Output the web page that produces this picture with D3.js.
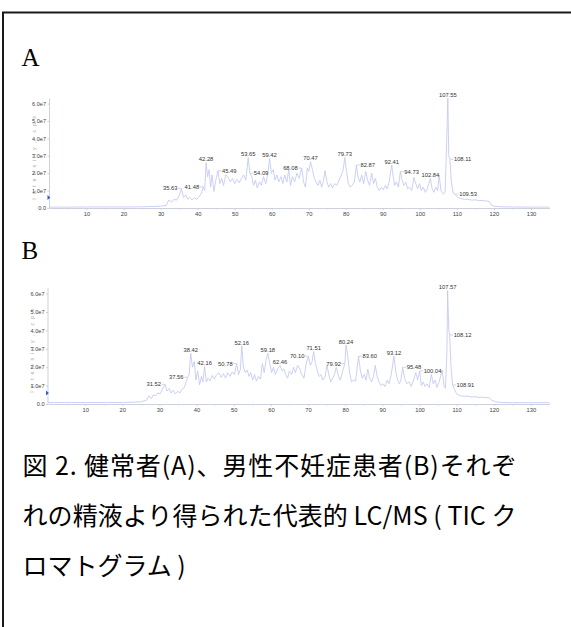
<!DOCTYPE html>
<html><head><meta charset="utf-8">
<script src="https://cdn.jsdelivr.net/npm/d3@7"></script>
<style>body{margin:0;background:#fff} svg{display:block}</style>
</head><body>
<svg id="c" width="571" height="627"></svg>
<script>
// ---------- DATA (intensity in units of 1e7) ----------
const xTicks = [10,20,30,40,50,60,70,80,90,100,110,120,130];
const yTicks = [0,1e7,2e7,3e7,4e7,5e7,6e7];

const traceA = [[0,0.05],[5,0.05],[10,0.06],[15,0.06],[20,0.06],[25,0.07],[30,0.1],[31.5,0.15],[32.2,0.45],[33,0.35],[33.6,0.5],[34.3,0.45],[35,0.7],[35.63,1.13],[36.2,0.6],[36.8,0.75],[37.3,0.5],[37.9,0.62],[38.5,0.45],[39.1,0.58],[39.8,0.5],[40.5,0.7],[41.0,0.85],[41.48,1.22],[41.9,1.0],[42.28,2.6],[42.7,1.8],[43.1,2.2],[43.5,1.2],[43.9,1.9],[44.4,0.95],[44.9,1.6],[45.49,2.14],[46.0,1.4],[46.5,1.7],[47.0,1.3],[47.6,1.9],[48.2,1.8],[48.8,1.5],[49.4,1.7],[50.0,1.4],[50.6,1.65],[51.2,1.45],[51.8,1.7],[52.4,1.9],[53.0,1.6],[53.65,2.9],[54.09,2.0],[54.6,1.8],[55.1,1.3],[55.6,1.6],[56.1,1.15],[56.7,1.5],[57.2,1.3],[57.8,1.8],[58.4,1.4],[58.9,1.9],[59.42,2.85],[59.9,2.0],[60.4,2.2],[60.9,1.6],[61.4,1.9],[61.9,1.5],[62.5,1.8],[63.0,1.4],[63.5,1.9],[64.1,1.5],[64.6,2.2],[65.1,1.3],[65.6,1.8],[66.2,1.5],[66.8,2.0],[67.4,1.7],[68.08,2.3],[68.6,1.5],[69.1,1.2],[69.6,2.3],[70.0,2.1],[70.47,2.66],[71.0,2.2],[71.5,1.7],[72.0,1.5],[72.5,1.3],[73.0,1.6],[73.5,1.2],[74.0,1.6],[74.4,2.14],[74.9,1.5],[75.4,1.2],[75.9,1.4],[76.4,1.15],[77.0,1.4],[77.6,1.3],[78.2,1.6],[78.8,1.9],[79.3,2.2],[79.73,2.9],[80.2,2.1],[80.7,1.4],[81.2,1.2],[81.7,1.3],[82.3,1.5],[82.87,2.47],[83.3,1.8],[83.8,1.5],[84.3,1.9],[84.8,1.4],[85.4,2.1],[85.9,1.6],[86.4,1.3],[87.0,2.0],[87.5,1.4],[88.0,1.7],[88.5,1.2],[89.0,1.0],[89.6,1.2],[90.1,1.05],[90.7,1.3],[91.2,1.1],[91.7,1.5],[92.41,2.47],[92.8,1.8],[93.2,1.3],[93.7,1.5],[94.2,1.2],[94.73,2.09],[95.2,1.6],[95.7,1.3],[96.2,1.5],[96.7,1.1],[97.2,1.2],[97.8,1.0],[98.4,1.76],[98.9,1.4],[99.4,1.1],[99.9,1.4],[100.4,1.0],[100.9,1.2],[101.5,0.9],[102.0,1.1],[102.84,1.7],[103.3,1.1],[103.8,0.9],[104.3,1.2],[104.8,1.0],[105.2,1.9],[105.7,1.0],[106.3,0.8],[106.8,0.9],[107.2,3.5],[107.55,6.3],[107.8,3.0],[108.11,2.8],[108.5,1.5],[109.0,0.84],[109.53,0.8],[110.2,0.6],[111,0.55],[112,0.5],[113,0.5],[114,0.45],[115,0.47],[116,0.42],[117,0.43],[118,0.4],[118.7,0.38],[119.2,0.2],[120,0.1],[122,0.07],[125,0.06],[130,0.05],[135,0.05]];

const peaksA = ["35.63","41.48","42.28","45.49","53.65","54.09","59.42","68.08","70.47","79.73","82.87","92.41","94.73","102.84","107.55","108.11","109.53"];
const sidesA = ["L","L","C","R","C","R","C","L","C","C","R","C","R","C","C","R","R"];

const traceB = [[0,0.08],[5,0.08],[10,0.08],[15,0.08],[20,0.08],[23,0.1],[25,0.12],[26.5,0.2],[27.2,0.45],[27.8,0.3],[28.4,0.5],[29.0,0.45],[29.6,0.6],[30.2,0.55],[30.8,0.8],[31.52,1.07],[32.0,0.7],[32.6,0.85],[33.1,0.6],[33.7,0.75],[34.3,0.55],[34.9,0.7],[35.5,0.6],[36.1,0.8],[36.7,0.9],[37.2,1.2],[37.56,1.45],[38.0,1.6],[38.42,2.75],[38.9,2.0],[39.4,2.3],[39.8,1.3],[40.3,1.8],[40.8,1.05],[41.3,1.5],[41.7,1.2],[42.16,2.03],[42.6,1.2],[43.1,1.4],[43.6,1.25],[44.2,1.55],[44.8,1.35],[45.4,1.6],[46.0,1.7],[46.6,1.45],[47.2,1.65],[47.8,1.4],[48.4,1.7],[49.0,1.5],[49.6,1.75],[50.2,1.6],[50.78,2.2],[51.3,1.6],[51.8,1.9],[52.16,3.15],[52.6,2.0],[53.1,1.7],[53.6,1.85],[54.1,1.5],[54.6,1.7],[55.1,1.3],[55.6,1.6],[56.1,1.25],[56.7,1.5],[57.2,1.35],[57.7,2.2],[58.2,1.7],[58.7,2.4],[59.18,2.75],[59.7,2.2],[60.2,1.7],[60.7,2.0],[61.2,1.6],[61.8,1.9],[62.46,2.1],[63.0,1.8],[63.5,1.9],[64.0,1.6],[64.5,1.4],[65.0,1.8],[65.6,1.6],[66.1,2.0],[66.6,1.7],[67.2,2.1],[67.8,1.9],[68.3,1.6],[68.9,1.4],[69.5,2.2],[70.10,2.6],[70.6,2.1],[71.1,2.3],[71.51,2.85],[72.0,2.2],[72.5,1.8],[73.0,1.5],[73.5,1.6],[74.0,1.3],[74.6,1.5],[75.1,2.1],[75.6,1.6],[76.1,1.2],[76.6,1.4],[77.1,1.6],[77.6,2.0],[78.2,1.5],[78.7,1.3],[79.2,1.7],[79.92,2.2],[80.24,3.2],[80.7,2.6],[81.2,1.7],[81.7,1.2],[82.2,1.3],[82.8,1.25],[83.60,2.6],[84.1,1.8],[84.6,1.4],[85.1,1.6],[85.6,1.3],[86.1,1.9],[86.6,1.4],[87.1,1.2],[87.6,1.5],[88.1,2.1],[88.6,1.5],[89.1,1.2],[89.6,1.0],[90.2,1.1],[90.7,0.95],[91.3,1.3],[91.8,1.1],[92.4,1.6],[93.12,2.6],[93.6,1.8],[94.1,1.3],[94.6,1.1],[95.0,1.3],[95.48,2.0],[96.0,1.4],[96.6,1.1],[97.2,1.2],[97.8,0.95],[98.4,1.3],[99.0,1.7],[99.5,1.3],[100.04,1.8],[100.5,1.0],[101.0,1.2],[101.5,0.95],[102.0,1.1],[102.6,0.9],[103.2,1.6],[103.7,1.1],[104.2,1.3],[104.7,0.9],[105.3,1.2],[106.1,1.85],[106.6,1.0],[107.0,0.85],[107.4,3.0],[107.57,6.16],[107.9,4.0],[108.12,3.75],[108.5,2.0],[108.91,1.03],[109.4,0.8],[110,0.55],[111,0.45],[112,0.42],[113,0.43],[114,0.38],[115,0.4],[116,0.36],[117,0.37],[118,0.35],[118.8,0.33],[119.5,0.2],[120.5,0.12],[122,0.08],[125,0.07],[130,0.07],[135,0.07]];

const peaksB = ["31.52","37.56","38.42","42.16","50.78","52.16","59.18","62.46","70.10","71.51","79.92","80.24","83.60","93.12","95.48","100.04","107.57","108.12","108.91"];
const sidesB = ["L","L","C","C","L","C","C","C","L","C","L","C","R","C","R","R","C","R","R"];

const panelLabels = ["A","B"];
const captionLines = ["図 2. 健常者(A)、男性不妊症患者(B)それぞ","れの精液より得られた代表的 LC/MS ( TIC ク","ロマトグラム )"];

// ---------- DRAW ----------
const svg = d3.select("#c");
svg.append("rect").attr("x",3).attr("y",12.5).attr("width",600).attr("height",640)
  .attr("fill","none").attr("stroke","#1a1a1a").attr("stroke-width",2);

const AX = "#cdd1dc", TRACE = "#c3c8f1", TXT = "#444";

function panel(trace, peaks, sides, lay, id){
  const x = d3.scaleLinear().domain([0,135]).range([lay.x0, lay.x1]);
  const y = d3.scaleLinear().domain([0,6e7]).range([lay.y0, lay.y6]);
  const g = svg.append("g");

  // y title remnant (rotated, partly hidden)
  g.append("text").attr("transform",`translate(${lay.x0-14},${(lay.y0+lay.y6)/2}) rotate(-90)`)
    .attr("text-anchor","middle").attr("font-family","Liberation Sans, Arial").attr("font-size",5.5)
    .attr("letter-spacing",4).attr("fill","#aaa").text("Intensity, cps");

  // x axis
  const xa = g.append("g").attr("transform",`translate(0,${lay.y0})`)
    .call(d3.axisBottom(x).tickValues(xTicks).tickSize(2).tickSizeOuter(0).tickPadding(2).tickFormat(d3.format("d")));
  xa.select(".domain").attr("stroke",AX);
  xa.selectAll(".tick line").attr("stroke",AX);
  xa.selectAll("text").attr("fill",TXT).attr("font-size",5.8).attr("font-family","Liberation Sans, Arial");
  g.append("g").attr("transform",`translate(0,${lay.y0})`)
    .call(d3.axisBottom(x).tickValues(d3.range(5,135,10)).tickSize(1.5).tickFormat(""))
    .call(s=>{s.select(".domain").remove(); s.selectAll("line").attr("stroke",AX);});

  // y axis
  g.append("line").attr("x1",lay.x0).attr("x2",lay.x0).attr("y1",lay.y0).attr("y2",y(6.3e7)).attr("stroke",AX);
  const ya = g.append("g").attr("transform",`translate(${lay.x0},0)`)
    .call(d3.axisLeft(y).tickValues(yTicks).tickSize(2).tickPadding(1.5)
      .tickFormat(d => d===0 ? "0.0" : (d/1e7).toFixed(1)+"e7"));
  ya.select(".domain").remove();
  ya.selectAll(".tick line").attr("stroke",AX);
  ya.selectAll("text").attr("fill",TXT).attr("font-size",5.6).attr("font-family","Liberation Sans, Arial");

  // marker triangle
  const ty = y(0.6e7);
  g.append("path").attr("d",`M${lay.x0-2},${ty-2.5}L${lay.x0+0.8},${ty}L${lay.x0-2},${ty+2.5}Z`).attr("fill","#2a5bd7");

  // x title (clipped)
  svg.append("clipPath").attr("id","clip"+id).append("rect")
    .attr("x",0).attr("y",0).attr("width",571).attr("height",lay.clipY);
  g.append("text").attr("clip-path",`url(#clip${id})`).attr("x",x(64)).attr("y",lay.y0+16)
    .attr("font-family","Liberation Sans, Arial").attr("font-size",6).attr("fill",TXT).text("Time, min");

  // trace
  g.append("path").datum(trace)
    .attr("d", d3.line().x(d=>x(d[0])).y(d=>y(d[1]*1e7)))
    .attr("fill","none").attr("stroke",TRACE).attr("stroke-width",0.85).attr("stroke-linejoin","round");

  // peak labels
  peaks.forEach((p,i)=>{
    const t = +p;
    const pt = trace.reduce((a,b)=> Math.abs(b[0]-t) < Math.abs(a[0]-t) ? b : a);
    const px = x(pt[0]), py = y(pt[1]*1e7);
    const s = sides[i];
    const tx = g.append("text").attr("font-family","Liberation Sans, Arial").attr("font-size",5.8).attr("fill","#333").text(p);
    if (s==="C"){
      tx.attr("x",px).attr("y",py-1.5).attr("text-anchor","middle");
    } else if (s==="R"){
      tx.attr("x",px+4).attr("y",py+2).attr("text-anchor","start");
      g.append("line").attr("x1",px+0.5).attr("x2",px+3.5).attr("y1",py).attr("y2",py).attr("stroke","#aaa").attr("stroke-width",0.5);
    } else {
      tx.attr("x",px-4).attr("y",py+2).attr("text-anchor","end");
      g.append("line").attr("x1",px-3.5).attr("x2",px-0.5).attr("y1",py).attr("y2",py).attr("stroke","#aaa").attr("stroke-width",0.5);
    }
  });
}

panel(traceA, peaksA, sidesA, {x0:49.5, x1:549.5, y0:208, y6:103.6, clipY:219.5}, "A");
panel(traceB, peaksB, sidesB, {x0:48, x1:549.5, y0:404, y6:293.6, clipY:415}, "B");

// panel letters
svg.selectAll("text.pl").data(panelLabels).enter().append("text").attr("class","pl")
  .attr("x",21.5).attr("y",(d,i)=> i===0 ? 66 : 259)
  .attr("font-family","Liberation Serif, Times New Roman, serif").attr("font-size",25).attr("fill","#000")
  .text(d=>d);

// caption
svg.selectAll("text.cap").data(captionLines).enter().append("text").attr("class","cap")
  .attr("x",22.5).attr("y",(d,i)=>475+i*50)
  .attr("font-family","Noto Sans CJK JP").attr("font-size",25).attr("fill","#000")
  .each(function(d,i){ if(i<2){ d3.select(this).attr("textLength",494).attr("lengthAdjust","spacing"); } })
  .text(d=>d);
</script>
</body></html>
